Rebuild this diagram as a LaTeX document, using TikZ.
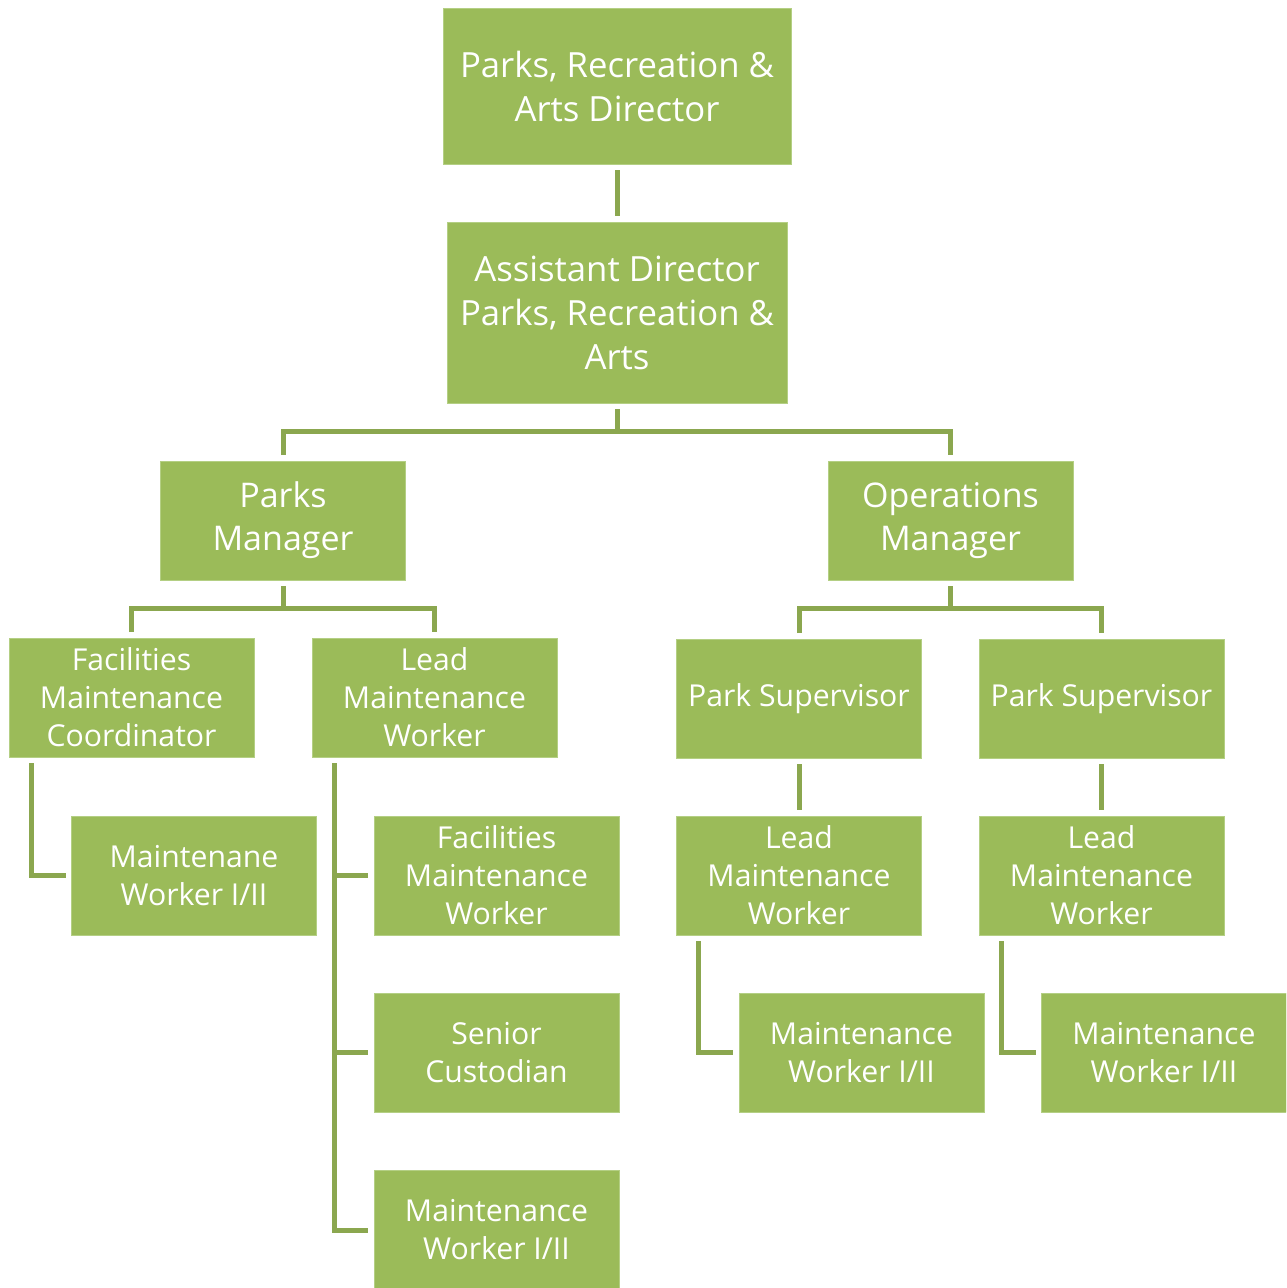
\documentclass[tikz,border=0pt]{standalone}
\usepackage{fontspec}
\setmainfont{Open Sans}
\definecolor{boxgreen}{HTML}{9BBB59}
\definecolor{linegreen}{HTML}{8BA74F}
\definecolor{boxedge}{HTML}{B4CF84}
\begin{document}
\begin{tikzpicture}[x=1pt,y=-1pt,
  unit/.style={fill=boxgreen, draw=boxedge, line width=0.8pt, text=white,
    align=center, inner sep=0pt, outer sep=6pt,
    minimum width=245pt, minimum height=119pt},
  big/.style={unit, font=\fontsize{34.7}{44}\selectfont},
  mid/.style={unit, font=\fontsize{34}{43}\selectfont},
  small/.style={unit, font=\fontsize{30.2}{38}\selectfont},
  conn/.style={draw=linegreen, line width=5pt, line join=miter}]
\useasboundingbox (0,0) rectangle (1286,1288);
\clip (0,0) rectangle (1286,1288);

% top levels
\node[big, minimum width=348pt, minimum height=156pt] (dir) at (617,86) {Parks, Recreation \&\\Arts Director};
\node[big, minimum width=340pt, minimum height=181pt] (asst) at (617,312.5) {Assistant Director\\Parks, Recreation \&\\Arts};

% managers
\node[mid] (pm) at (283,520.5) {Parks\\Manager};
\node[mid] (om) at (950.5,520.5) {Operations\\Manager};

% third row
\node[small] (fmc) at (131.5,697.5) {Facilities\\Maintenance\\Coordinator};
\node[small] (lmwa) at (434.5,697.5) {Lead\\Maintenance\\Worker};
\node[small] (psa) at (799,698.5) {Park Supervisor};
\node[small] (psb) at (1101.5,698.5) {Park Supervisor};

% fourth row
\node[small] (mwa) at (194,875.5) {Maintenane\\Worker I/II};
\node[small] (fmw) at (496.5,875.5) {Facilities\\Maintenance\\Worker};
\node[small] (lmwb) at (799,875.5) {Lead\\Maintenance\\Worker};
\node[small] (lmwc) at (1101.5,875.5) {Lead\\Maintenance\\Worker};

% fifth row
\node[small] (sc) at (496.5,1052.5) {Senior\\Custodian};
\node[small] (mwb) at (861.5,1052.5) {Maintenance\\Worker I/II};
\node[small] (mwc) at (1164,1052.5) {Maintenance\\Worker I/II};

% sixth row
\node[small] (mwd) at (496.5,1230) {Maintenance\\Worker I/II};

% bus levels
\coordinate (busa) at (0,431);
\coordinate (busb) at (0,608);

% connectors
\draw[conn] (dir.south) -- (asst.north);
\draw[conn] (asst.south) -- (asst.south |- busa);
\draw[conn] (pm.north) -- (pm.north |- busa) -| (om.north);

\draw[conn] (pm.south) -- (pm.south |- busb);
\draw[conn] (fmc.north) -- (fmc.north |- busb) -| (lmwa.north);
\draw[conn] (om.south) -- (om.south |- busb);
\draw[conn] (psa.north) -- (psa.north |- busb) -| (psb.north);

\draw[conn] ([xshift=28pt]fmc.south west) |- (mwa.west);
\draw[conn] ([xshift=28pt]lmwa.south west) |- (mwd.west);
\draw[conn] ([xshift=28pt]lmwa.south west |- fmw.west) -- (fmw.west);
\draw[conn] ([xshift=28pt]lmwa.south west |- sc.west) -- (sc.west);

\draw[conn] (psa.south) -- (lmwb.north);
\draw[conn] (psb.south) -- (lmwc.north);
\draw[conn] ([xshift=28pt]lmwb.south west) |- (mwb.west);
\draw[conn] ([xshift=28pt]lmwc.south west) |- (mwc.west);
\end{tikzpicture}
\end{document}
